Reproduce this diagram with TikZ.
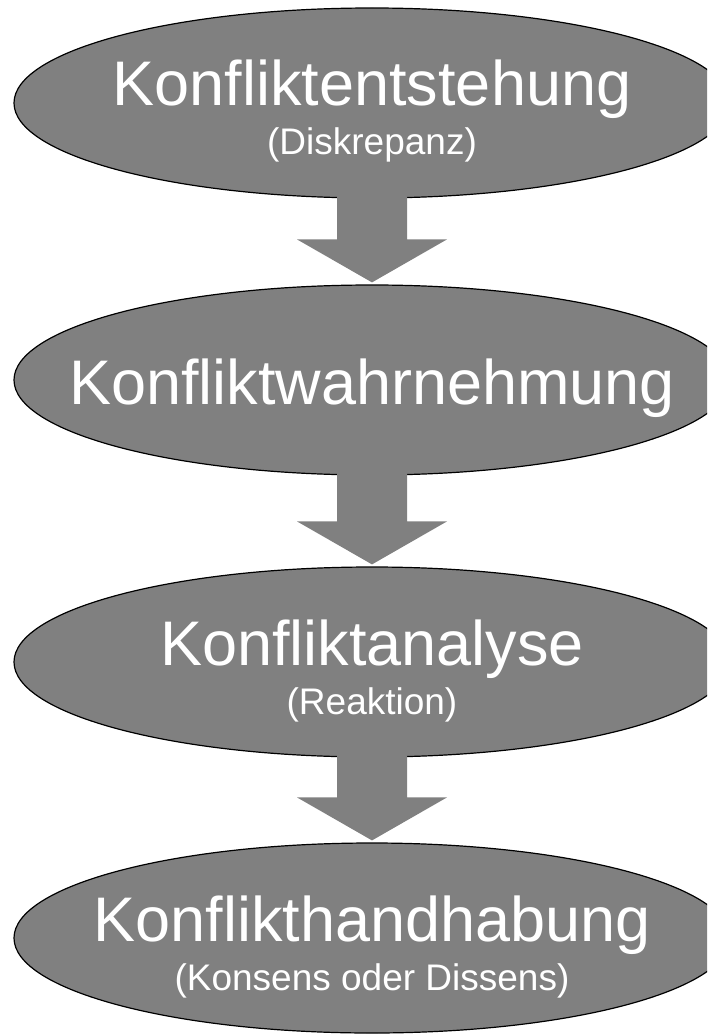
\documentclass[tikz,border=0pt]{standalone}
\usepackage{fontspec}
\setmainfont{Liberation Sans}
\usetikzlibrary{shapes.geometric,calc}
\definecolor{stagegray}{HTML}{808080}
\begin{document}
\begin{tikzpicture}[x=1pt,y=-1pt,
  stage/.style={ellipse, draw=black, line width=1.2pt, fill=stagegray,
    minimum width=716pt, minimum height=190pt, inner sep=0pt},
  title/.style={text=white, font=\fontsize{63}{63}\selectfont,
    anchor=base, inner sep=0pt},
  note/.style={text=white, font=\fontsize{37}{37}\selectfont,
    anchor=base, inner sep=0pt},
  flow/.style={fill=stagegray}]
\useasboundingbox (0,0) rectangle (707,1035);
\clip (0,0) rectangle (707,1035);

% the four stages
\node[stage] (e1) at (372,103) {};
\node[stage] (e2) at (372,380) {};
\node[stage] (e3) at (372,662) {};
\node[stage] (e4) at (372,938) {};

% block arrows between consecutive stages
\foreach \a/\b in {e1/e2,e2/e3,e3/e4}
  \fill[flow] ($(\a.south)+(-35,-3)$) -- ($(\b.north)+(-35,-45)$)
    -- ($(\b.north)+(-75,-45)$) -- ($(\b.north)+(0,-2)$)
    -- ($(\b.north)+(75,-45)$) -- ($(\b.north)+(35,-45)$)
    -- ($(\a.south)+(35,-3)$) -- cycle;

% labels
\node[title] (t1) at ($(e1.center)+(0,3)$) {Konfliktentstehung};
\node[note]  (n1) at ($(e1.center)+(0,52)$) {(Diskrepanz)};
\node[title] (t2) at ($(e2.center)+(0,24)$) {Konfliktwahrnehmung};
\node[title] (t3) at ($(e3.center)+(0,3)$) {Konfliktanalyse};
\node[note]  (n3) at ($(e3.center)+(0,52)$) {(Reaktion)};
\node[title] (t4) at ($(e4.center)+(0,3)$) {Konflikthandhabung};
\node[note]  (n4) at ($(e4.center)+(0,52)$) {(Konsens oder Dissens)};
\end{tikzpicture}
\end{document}
